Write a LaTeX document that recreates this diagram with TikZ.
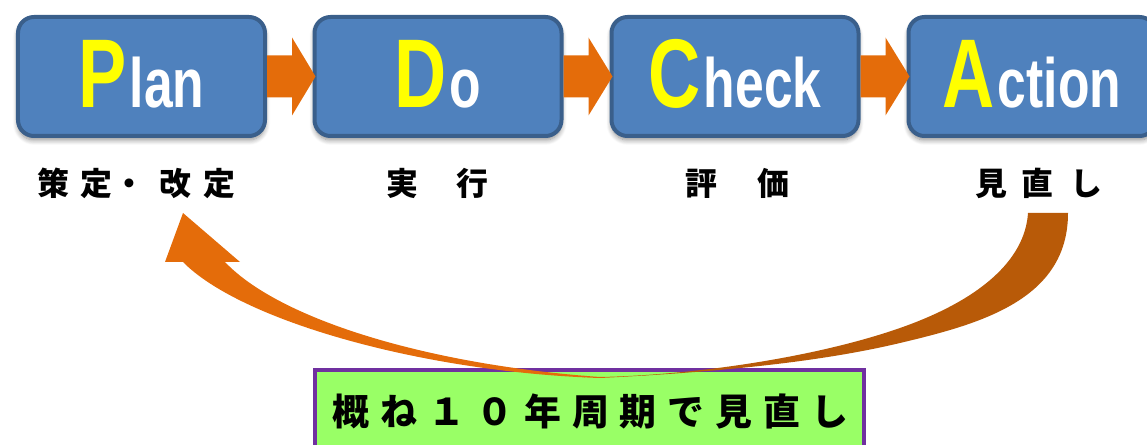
\documentclass[tikz,border=0pt]{standalone}
\usepackage{fontspec}
\newfontfamily\latinfont{Liberation Sans}[FakeStretch=0.74]
\newfontfamily\jpfont{Noto Sans CJK JP}
\usetikzlibrary{calc,shadows.blur}
\definecolor{boxblue}{HTML}{4F81BD}
\definecolor{boxedge}{HTML}{3A5F8B}
\definecolor{arrorange}{HTML}{E46C0A}
\definecolor{arrdark}{HTML}{B85A08}
\definecolor{lgreen}{HTML}{99FF66}
\definecolor{purp}{HTML}{7030A0}
\definecolor{pyellow}{HTML}{FFFF00}
\newcommand\pdcaword[2]{{\color{pyellow}\fontsize{98}{98}\selectfont #1}\kern3bp{\fontsize{70}{70}\selectfont #2}}
\newcommand\blockarrow[2]{%
  \fill[arrorange] ($(#1.east)+(0,-21)$) -- ($(#1.east)+(25,-21)$) -- ($(#1.east)+(25,-39)$)
    -- ($(#2.west)+(3,0)$) -- ($(#1.east)+(25,39)$) -- ($(#1.east)+(25,21)$) -- ($(#1.east)+(0,21)$) -- cycle;}
\newcommand\gs{\hspace{11bp}}
\begin{document}
\begin{tikzpicture}[x=1bp,y=-1bp,
  pbox/.style={draw=boxedge, line width=4bp, fill=boxblue, rounded corners=16bp,
    minimum width=247bp, minimum height=119bp, inner sep=0pt,
    text height=70bp, text depth=7bp, font=\latinfont\bfseries, text=white,
    blur shadow={shadow xshift=0bp, shadow yshift=-4bp, shadow blur radius=5bp, shadow blur steps=8, shadow opacity=45}},
  lbl/.style={anchor=base, inner sep=0pt, font=\jpfont\bfseries\fontsize{32}{32}\selectfont},
  gbox/.style={draw=purp, line width=4bp, fill=lgreen, minimum width=549bp, minimum height=92bp, inner sep=0pt},
  gtext/.style={anchor=base, inner sep=0pt, font=\jpfont\bfseries\fontsize{37}{37}\selectfont}
]
\useasboundingbox (0,0) rectangle (1147,445);

% PDCA boxes
\node[pbox] (P) at (141.5,76.5) {\pdcaword{P}{lan}};
\node[pbox] (D) at (438,76.5) {\pdcaword{D}{o}};
\node[pbox] (C) at (735,76.5) {\pdcaword{C}{heck}};
\node[pbox] (A) at (1032,76.5) {\pdcaword{A}{ction}};

% block arrows between boxes
\blockarrow{P}{D}
\blockarrow{D}{C}
\blockarrow{C}{A}

% labels
\node[lbl] (LP) at (136.5,196) {策\hspace{11bp}定\hspace{1bp}・\hspace{14bp}改\hspace{12bp}定};
\node[lbl] (LD) at (437.5,196) {実\hspace{38bp}行};
\node[lbl] (LC) at (737.5,196) {評\hspace{40bp}価};
\node[lbl] (LA) at (1039,196) {見\hspace{14bp}直\hspace{18bp}し};

% bottom box
\node[gbox] (G) at (589.5,416) {};
\node[gtext] (GT) at (590.5,425.5) {概\gs ね\gs １\gs ０\gs 年\gs 周\gs 期\gs で\gs 見\gs 直\gs し};

% curved return arrow
\begin{scope}
\clip (183,213) -- (240,262) -- (225,262)
  .. controls (280,320) and (430,365) .. (600,377)
  .. controls (700,375) and (820,356) .. (900,328)
  .. controls (980,300) and (1025,260) .. (1028,213)
  -- (1068,213)
  .. controls (1068,300) and (980,324) .. (900,343)
  .. controls (820,362) and (720,372) .. (600,378)
  .. controls (420,372) and (240,320) .. (183,262)
  -- (165,262) -- cycle;
\fill[arrorange] (0,0) rectangle (585,445);
\shade[left color=arrorange, right color=arrdark] (584,0) rectangle (646,445);
\fill[arrdark] (645,0) rectangle (1147,445);
\end{scope}
\end{tikzpicture}
\end{document}
